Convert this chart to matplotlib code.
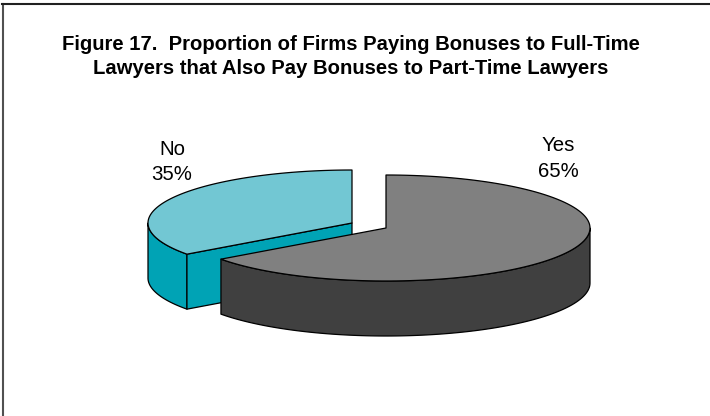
#!/usr/bin/env python3
"""Figure 17: exploded 3-D style pie, bonuses to part-time lawyers."""
import numpy as np
import matplotlib
matplotlib.use("Agg")
import matplotlib.pyplot as plt
from matplotlib.patches import Polygon

labels = ["Yes", "No"]
shares = [65, 35]
top_colors = ["#808080", "#72C7D3"]
side_colors = ["#404040", "#00A3B5"]
title = ("Figure 17.  Proportion of Firms Paying Bonuses to Full-Time\n"
         "Lawyers that Also Pay Bonuses to Part-Time Lawyers")

# pie geometry in image pixels
RX, RY, DEPTH = 204, 53, 55
CENTRES = [(386, 228), (352, 223)]
LABEL_POS = [(558, 158.5), (172, 162)]
LW = 0.9


def rim(c, a0, a1, n=120):
    # angles clockwise from 12 o'clock, degrees
    t = np.radians(np.linspace(a0, a1, n))
    return np.column_stack((c[0] + RX * np.sin(t), c[1] - RY * np.cos(t)))


def wall(pts):
    low = pts[::-1] + [0, DEPTH]
    return np.vstack((pts, low))


def add(ax, pts, color):
    ax.add_patch(Polygon(pts, closed=True, fc=color, ec="black", lw=LW, joinstyle="round"))


fig = plt.figure(figsize=(7.1, 4.16), dpi=100)
ax = fig.add_axes([0, 0, 1, 1])
ax.set_xlim(0, 710)
ax.set_ylim(416, 0)
ax.axis("off")

# chart frame, only top and left show
ax.plot([3, 3], [416, 3.5], color="#505050", lw=1.5)
ax.plot([2, 710], [3.5, 3.5], color="#202020", lw=1.5)

end_yes = 360 * shares[0] / sum(shares)

# No slice first, Yes sits in front of it
c = CENTRES[1]
edge_no = rim(c, end_yes, 360)
add(ax, wall(rim(c, end_yes, 270)), side_colors[1])
add(ax, wall(np.array([edge_no[0], c])), side_colors[1])
add(ax, np.vstack(([c], edge_no)), top_colors[1])

c = CENTRES[0]
edge_yes = rim(c, 0, end_yes)
add(ax, wall(rim(c, 90, end_yes)), side_colors[0])
add(ax, np.vstack(([c], edge_yes)), top_colors[0])

font = ["Liberation Sans", "DejaVu Sans"]
ax.text(351, 56.5, title, ha="center", va="center", family=font, fontweight="bold",
        fontsize=14.55, linespacing=1.3)
for lab, s, pos in zip(labels, shares, LABEL_POS):
    ax.text(pos[0], pos[1], f"{lab}\n{s}%", ha="center", va="center", family=font,
            fontsize=14.7, linespacing=1.42)

fig.savefig("out.png", dpi=100)
